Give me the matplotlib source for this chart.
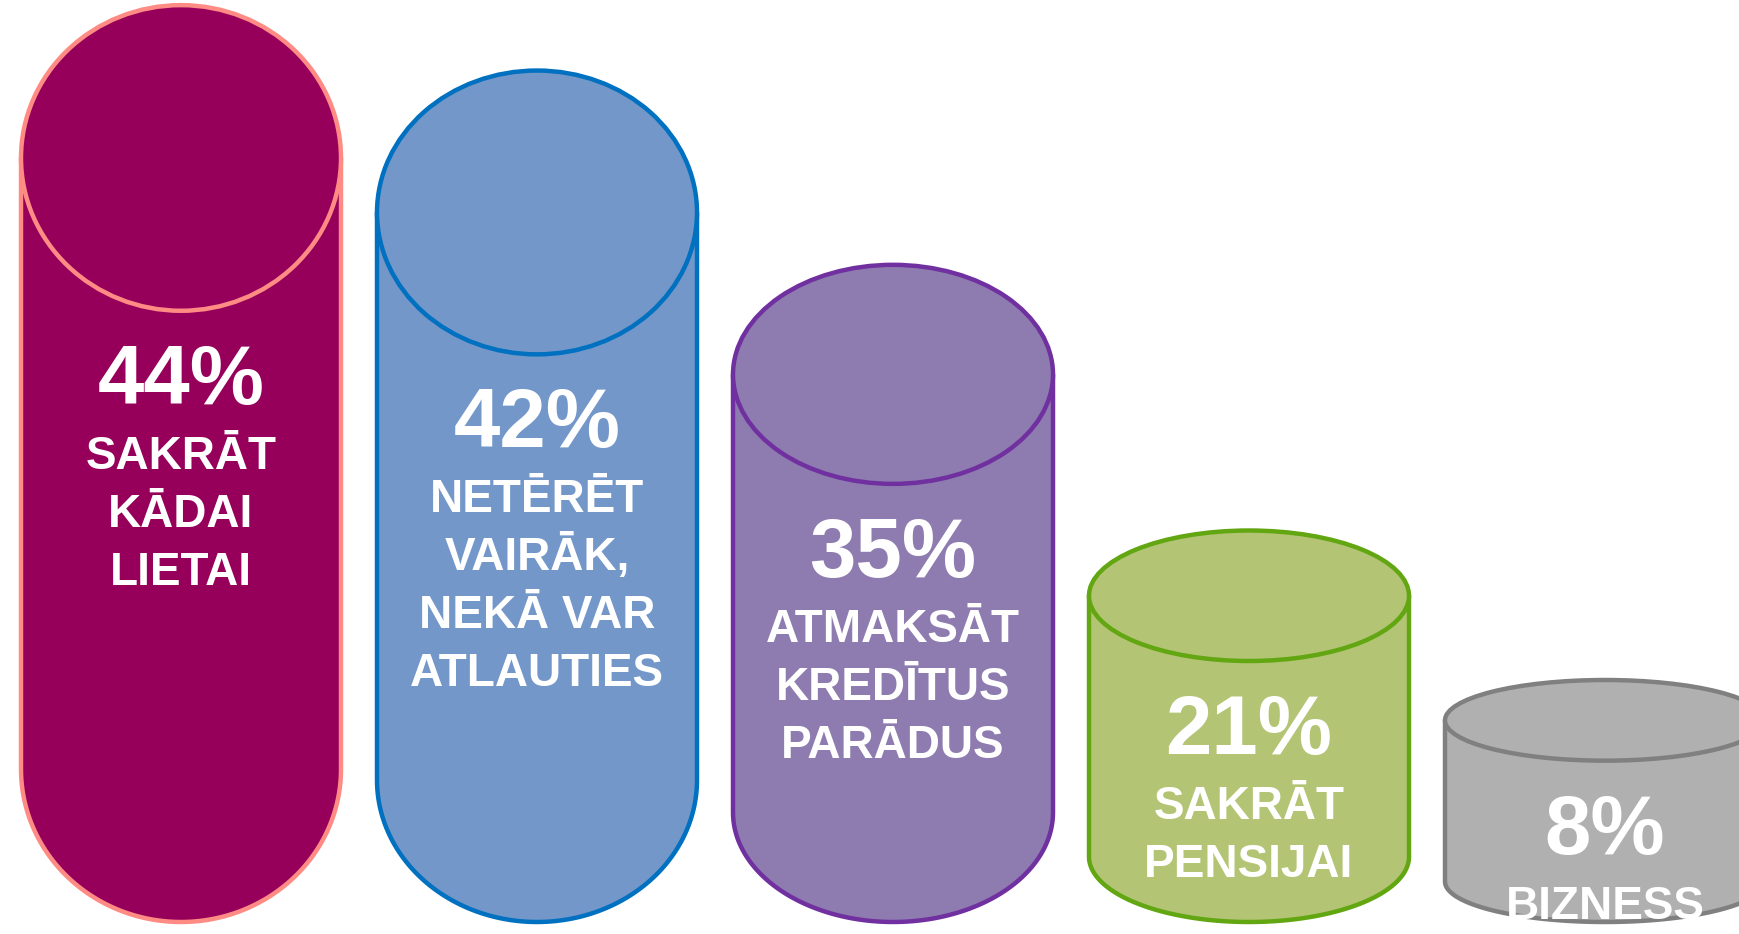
import numpy as np
import matplotlib.pyplot as plt
from matplotlib.patches import Ellipse

# survey answers, in percent
values = [44, 42, 35, 21, 8]
labels = [
    "SAKRĀT\nKĀDAI\nLIETAI",
    "NETĒRĒT\nVAIRĀK,\nNEKĀ VAR\nATLAUTIES",
    "ATMAKSĀT\nKREDĪTUS\nPARĀDUS",
    "SAKRĀT\nPENSIJAI",
    "BIZNESS",
]
fills = ["#96005A", "#7397C9", "#8E7CB0", "#B3C574", "#B0B0B0"]
edges = ["#FF8C84", "#0070C0", "#7030A0", "#62A612", "#808080"]

W, H = 1740, 934
fig = plt.figure(figsize=(W / 100, H / 100), dpi=100)
ax = fig.add_axes([0, 0, 1, 1])
ax.set_xlim(0, W)
ax.set_ylim(H, 0)
ax.axis("off")


def body_height(v):
    # pictogram height scale (not linear)
    return 120.0 * np.exp(0.037 * v)


baseline = 922
x0, step, rx = 181, 356, 160
lw = 3.2
font = "Liberation Sans"

for i, v in enumerate(values):
    cx = x0 + i * step
    h = body_height(v)
    ry = h / 4
    by = baseline - ry
    ty = by - h
    t = np.linspace(np.pi, 0, 120)
    xs = np.concatenate([[cx - rx], cx + rx * np.cos(t), [cx + rx]])
    ys = np.concatenate([[ty], by + ry * np.sin(t), [ty]])
    ax.fill(xs, ys, facecolor=fills[i], edgecolor=edges[i], lw=lw, joinstyle="round")
    ax.add_patch(Ellipse((cx, ty), 2 * rx, 2 * ry, facecolor=fills[i],
                         edgecolor=edges[i], lw=lw))

    ypct = ty + ry + 63
    ax.text(cx, ypct + 30, f"{v}%", ha="center", va="baseline", color="white",
            fontsize=60, fontweight="bold", family=font)
    for j, line in enumerate(labels[i].split("\n")):
        ax.text(cx, ypct + 78 + 58 * j + 17, line, ha="center", va="baseline",
                color="white", fontsize=33, fontweight="bold", family=font)

fig.savefig("out.png", dpi=100)
